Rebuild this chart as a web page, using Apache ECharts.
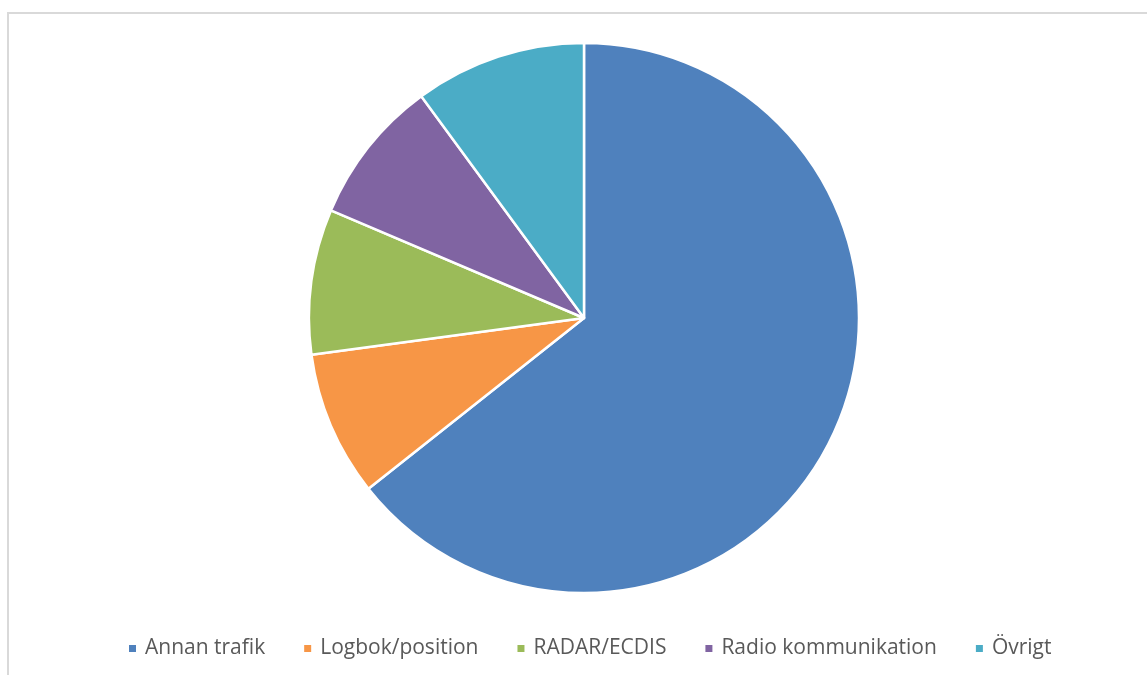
<!DOCTYPE html>
<html>
<head>
<meta charset="utf-8">
<script src="https://cdn.jsdelivr.net/npm/echarts@6/dist/echarts.min.js"></script>
<style>
  html, body { margin: 0; padding: 0; background: #fff; }
  #chart { width: 1147px; height: 675px; }
</style>
</head>
<body>
<div id="chart"></div>
<script>
// Categories and their counts
const categories = ['Annan trafik', 'Logbok/position', 'RADAR/ECDIS', 'Radio kommunikation', 'Övrigt'];
const values = [83, 11, 11, 11, 13];
const colors = ['#4F81BD', '#F79646', '#9BBB59', '#8064A2', '#4BACC6'];

const chart = echarts.init(document.getElementById('chart'), null, { renderer: 'canvas' });

const pieData = categories.map((name, i) => ({
  name: name,
  value: values[i],
  itemStyle: { color: colors[i] }
}));

chart.setOption({
  animation: false,
  backgroundColor: '#ffffff',
  graphic: [{
    type: 'rect',
    shape: { x: 8, y: 13, width: 1160, height: 700 },
    style: { fill: 'none', stroke: '#d9d9d9', lineWidth: 2 },
    silent: true
  }],
  legend: {
    data: categories,
    left: 127,
    top: 638,
    icon: 'rect',
    itemWidth: 9,
    itemHeight: 9,
    itemGap: 37,
    padding: 0,
    textStyle: {
      fontFamily: 'Open Sans',
      fontSize: 21,
      color: '#595959',
      padding: [0, 0, 0, 3]
    }
  },
  series: [{
    type: 'pie',
    center: [584, 318],
    radius: 275,
    startAngle: 90,
    clockwise: true,
    label: { show: false },
    labelLine: { show: false },
    emphasis: { disabled: true },
    itemStyle: { borderColor: '#ffffff', borderWidth: 2.5 },
    data: pieData
  }]
});
</script>
</body>
</html>
